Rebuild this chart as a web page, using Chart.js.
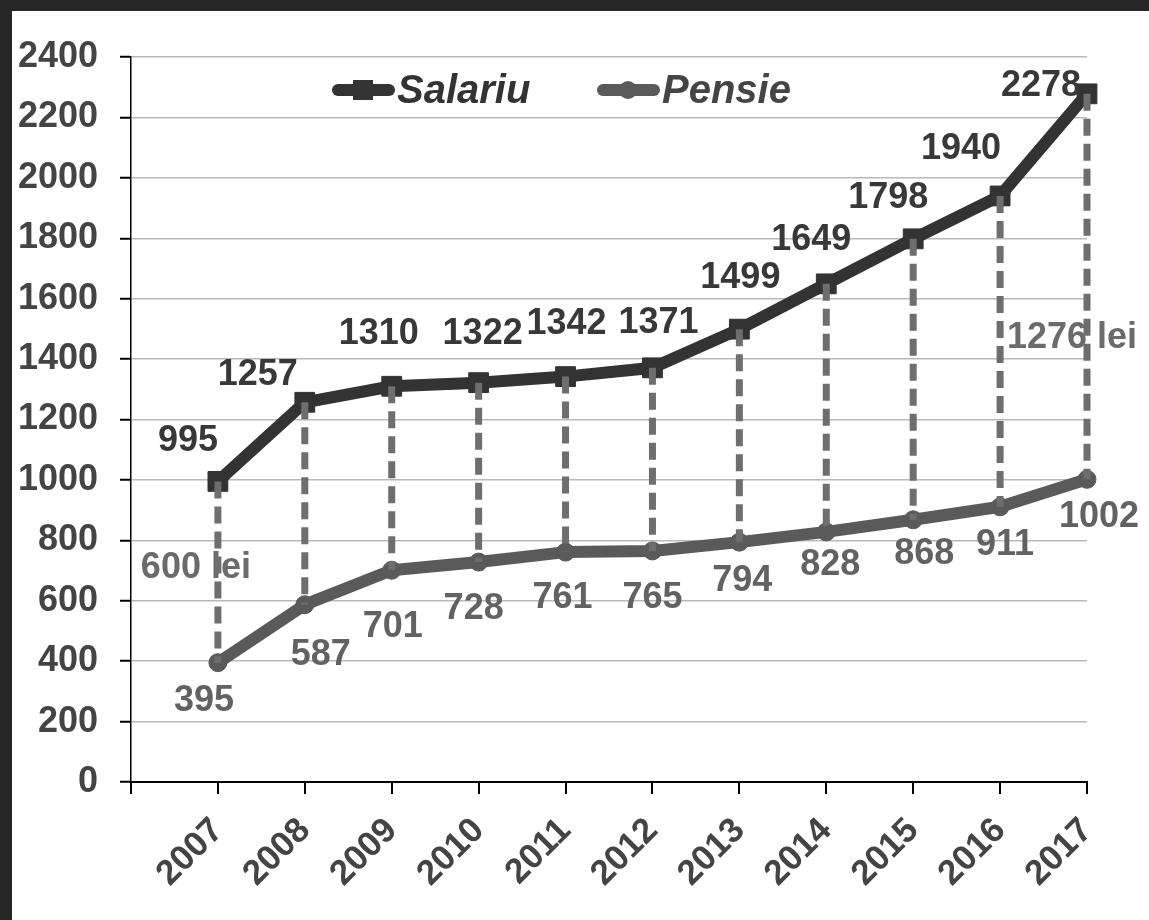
<!DOCTYPE html>
<html>
<head>
<meta charset="utf-8">
<script src="https://cdn.jsdelivr.net/npm/chart.js@4.4.1/dist/chart.umd.min.js"></script>
<style>
  body { margin: 0; background: #262626; }
  #wrap { position: absolute; left: 12px; top: 11px; width: 1137px; height: 909px; background: #fff; }
</style>
</head>
<body>
<div id="wrap"><canvas id="chart" width="1137" height="909"></canvas></div>
<script>
const years = [2007, 2008, 2009, 2010, 2011, 2012, 2013, 2014, 2015, 2016, 2017];
const salariu = [995, 1257, 1310, 1322, 1342, 1371, 1499, 1649, 1798, 1940, 2278];
const pensie = [395, 587, 701, 728, 761, 765, 794, 828, 868, 911, 1002];
const seriesNames = ['Salariu', 'Pensie'];

// where each value label sits relative to its point (px)
const salariuLabelOffset = [[-30, -40], [-47, -27], [-13, -52], [4, -49], [1, -53], [6, -45],
  [1, -51], [-15, -44], [-25, -41], [-39, -47], [-46, -8]];
const pensieLabelOffset = [[-14, 38], [16, 50], [1, 57], [-5, 47], [-3, 46], [0, 47],
  [3, 39], [4, 33], [11, 34], [5, 38], [12, 38]];

// difference notes: year, height on the value axis, horizontal nudge
const gapNotes = [
  { year: 2007, at: 708, dx: -22 },
  { year: 2017, at: 1470, dx: -15 }
];

const FONT = '"Liberation Sans", Arial, sans-serif';
Chart.defaults.font.family = FONT;

const overlay = {
  id: 'overlay',
  afterDatasetsDraw(chart) {
    const { ctx, scales: { x, y } } = chart;
    ctx.save();
    ctx.font = 'bold 36px ' + FONT;
    ctx.textAlign = 'center';
    ctx.textBaseline = 'middle';

    // "600 lei" / "1276 lei"
    ctx.fillStyle = '#6b6b6b';
    gapNotes.forEach(n => {
      const i = years.indexOf(n.year);
      ctx.fillText((salariu[i] - pensie[i]) + ' lei', x.getPixelForValue(n.year) + n.dx, y.getPixelForValue(n.at));
    });

    // dashed drops between the two series
    ctx.strokeStyle = '#6e6e6e';
    ctx.lineWidth = 7;
    ctx.setLineDash([17, 8]);
    years.forEach((yr, i) => {
      const px = x.getPixelForValue(yr);
      ctx.beginPath();
      ctx.moveTo(px, y.getPixelForValue(salariu[i]));
      ctx.lineTo(px, y.getPixelForValue(pensie[i]));
      ctx.stroke();
    });
    ctx.setLineDash([]);

    // value labels
    years.forEach((yr, i) => {
      const px = x.getPixelForValue(yr);
      ctx.fillStyle = '#383838';
      ctx.fillText(String(salariu[i]), px + salariuLabelOffset[i][0], y.getPixelForValue(salariu[i]) + salariuLabelOffset[i][1]);
      ctx.fillStyle = '#626262';
      ctx.fillText(String(pensie[i]), px + pensieLabelOffset[i][0], y.getPixelForValue(pensie[i]) + pensieLabelOffset[i][1]);
    });

    // legend
    ctx.font = 'italic bold 40px ' + FONT;
    ctx.textAlign = 'left';
    const ly = 79;
    const items = [
      { x0: 320, color: '#333', text: '#333', rect: true },
      { x0: 585, color: '#5a5a5a', text: '#444', rect: false }
    ];
    items.forEach((it, k) => {
      ctx.strokeStyle = it.color;
      ctx.fillStyle = it.color;
      ctx.lineWidth = 12;
      ctx.lineCap = 'round';
      ctx.beginPath();
      ctx.moveTo(it.x0 + 6, ly);
      ctx.lineTo(it.x0 + 57, ly);
      ctx.stroke();
      const cx = it.x0 + 31;
      if (it.rect) {
        ctx.fillRect(cx - 10, ly - 10, 20, 20);
      } else {
        ctx.beginPath();
        ctx.arc(cx, ly, 9, 0, Math.PI * 2);
        ctx.fill();
      }
      ctx.fillStyle = it.text;
      ctx.fillText(seriesNames[k], it.x0 + 65, ly + 2);
    });
    ctx.restore();
  }
};

new Chart(document.getElementById('chart'), {
  type: 'line',
  data: {
    datasets: [
      {
        label: seriesNames[0],
        data: years.map((yr, i) => ({ x: yr, y: salariu[i] })),
        borderColor: '#333',
        backgroundColor: '#333',
        borderWidth: 12,
        pointStyle: 'rect',
        pointRadius: 14,
        pointBorderWidth: 1,
        tension: 0,
        clip: false
      },
      {
        label: seriesNames[1],
        data: years.map((yr, i) => ({ x: yr, y: pensie[i] })),
        borderColor: '#5a5a5a',
        backgroundColor: '#5a5a5a',
        borderWidth: 12,
        borderJoinStyle: 'round',
        pointStyle: 'circle',
        pointRadius: 9,
        pointBorderWidth: 1,
        tension: 0,
        clip: false
      }
    ]
  },
  options: {
    responsive: false,
    animation: false,
    layout: { padding: { top: 46, right: 62, left: 0, bottom: 0 } },
    plugins: {
      legend: { display: false },
      tooltip: { enabled: false }
    },
    scales: {
      x: {
        type: 'linear',
        min: 2006,
        max: 2017,
        ticks: {
          stepSize: 1,
          autoSkip: false,
          minRotation: 45,
          maxRotation: 45,
          padding: 16,
          color: '#444',
          font: { size: 35, weight: 'bold' },
          callback: v => years.includes(v) ? String(v) : ''
        },
        grid: { drawOnChartArea: false, color: '#000', tickLength: 12, lineWidth: 2 },
        border: { color: '#000', width: 2 },
        afterFit: s => { s.height = 138; }
      },
      y: {
        min: 0,
        max: 2400,
        ticks: {
          stepSize: 200,
          padding: 22,
          color: '#444',
          font: { size: 36, weight: 'bold' },
          callback: v => String(v)
        },
        grid: { color: '#b9b9b9', lineWidth: 1.5, tickColor: '#000', tickLength: 11, tickWidth: 2 },
        border: { color: '#000', width: 1.5 },
        afterFit: s => { s.width = 119; }
      }
    }
  },
  plugins: [overlay]
});
</script>
</body>
</html>
